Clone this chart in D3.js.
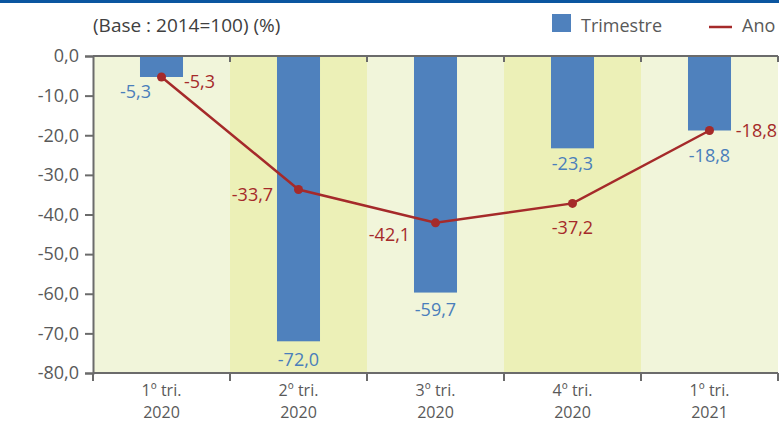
<!DOCTYPE html>
<html>
<head>
<meta charset="utf-8">
<script src="https://cdn.jsdelivr.net/npm/d3@7"></script>
<style>
  html, body { margin: 0; padding: 0; background: #fff; }
  svg { display: block; font-family: "Open Sans", sans-serif; }
</style>
</head>
<body>
<svg id="chart" width="779" height="423"></svg>
<script>
// Quarterly index change, base 2014 = 100
const quarters = ["1º tri.", "2º tri.", "3º tri.", "4º tri.", "1º tri."];
const years = ["2020", "2020", "2020", "2020", "2021"];
const categories = quarters.map((q, i) => q + " " + years[i]);
const trimestre = [-5.3, -72.0, -59.7, -23.3, -18.8];
const ano = [-5.3, -33.7, -42.1, -37.2, -18.8];
const yTicks = [0, -10, -20, -30, -40, -50, -60, -70, -80];

// label nudges (px) so the value labels don't collide with the line markers
const barLabelOffset = [[-26, 15], [0, 18], [0, 17], [0, 15], [0, 25]];
const lineLabelOffset = [[38, 5], [-46, 5], [-46, 12], [0, 24], [47, 0]];

const svg = d3.select("#chart");
const W = 779;
const plot = { left: 93, right: 778, top: 56, bottom: 373 };
const grey = "#6b6b6b";

const fmt = v => d3.format(".1f")(v).replace("−", "-").replace(".", ",");

const x = d3.scaleBand().domain(categories).range([plot.left, plot.right]);
const xBar = d3.scaleBand().domain(categories).range([plot.left, plot.right])
  .paddingInner(0.686).paddingOuter(0.343);
const y = d3.scaleLinear().domain([-80, 0]).range([plot.bottom, plot.top]);

// header band
svg.append("rect").attr("x", 0).attr("y", 0).attr("width", W).attr("height", 3).attr("fill", "#0b56a0");

// alternating background bands
svg.append("g").selectAll("rect").data(categories).join("rect")
  .attr("x", d => x(d)).attr("y", plot.top)
  .attr("width", x.bandwidth()).attr("height", plot.bottom - plot.top)
  .attr("fill", (d, i) => i % 2 ? "#ecf0b7" : "#f1f5da");

// bars
svg.append("g").selectAll("rect").data(trimestre).join("rect")
  .attr("x", (d, i) => xBar(categories[i]))
  .attr("y", y(0))
  .attr("width", xBar.bandwidth())
  .attr("height", d => y(d) - y(0))
  .attr("fill", "#4f81bd");

// y axis
const yAxis = d3.axisLeft(y).tickValues(yTicks).tickFormat(fmt).tickSize(8).tickPadding(6);
const gy = svg.append("g").attr("transform", `translate(${plot.left},0)`).call(yAxis);
gy.select(".domain").attr("stroke", grey).attr("stroke-width", 2);
gy.selectAll(".tick line").attr("stroke", grey).attr("stroke-width", 2);
gy.selectAll(".tick text").attr("fill", "#595959").attr("font-size", 18)
  .attr("font-family", "'Open Sans', sans-serif");

// category boundaries
const bounds = categories.map(c => x(c)).concat([plot.right]);

// zero line with small ticks
svg.append("line").attr("x1", plot.left).attr("x2", plot.right)
  .attr("y1", y(0)).attr("y2", y(0)).attr("stroke", grey).attr("stroke-width", 2);
svg.append("g").selectAll("line").data(bounds.slice(1)).join("line")
  .attr("x1", d => d).attr("x2", d => d).attr("y1", y(0)).attr("y2", y(0) + 6)
  .attr("stroke", grey).attr("stroke-width", 2);

// bottom category axis
svg.append("line").attr("x1", plot.left).attr("x2", plot.right)
  .attr("y1", plot.bottom).attr("y2", plot.bottom).attr("stroke", grey).attr("stroke-width", 2);
svg.append("g").selectAll("line").data(bounds).join("line")
  .attr("x1", d => d).attr("x2", d => d).attr("y1", plot.bottom).attr("y2", plot.bottom + 8)
  .attr("stroke", grey).attr("stroke-width", 2);
const cat = svg.append("g").attr("fill", "#595959").attr("font-size", 16).attr("text-anchor", "middle");
cat.selectAll("text.q").data(categories).join("text").attr("class", "q")
  .attr("x", d => x(d) + x.bandwidth() / 2).attr("y", 396)
  .text((d, i) => quarters[i]);
cat.selectAll("text.yr").data(categories).join("text").attr("class", "yr")
  .attr("x", d => x(d) + x.bandwidth() / 2).attr("y", 418)
  .text((d, i) => years[i]);

// line series
const cx = i => x(categories[i]) + x.bandwidth() / 2;
const line = d3.line().x((d, i) => cx(i)).y(d => y(d));
svg.append("path").datum(ano).attr("d", line)
  .attr("fill", "none").attr("stroke", "#a52a2a").attr("stroke-width", 2.5);
svg.append("g").selectAll("circle").data(ano).join("circle")
  .attr("cx", (d, i) => cx(i)).attr("cy", d => y(d)).attr("r", 4.5).attr("fill", "#a52a2a");

// value labels
svg.append("g").selectAll("text").data(trimestre).join("text")
  .attr("x", (d, i) => cx(i) + barLabelOffset[i][0])
  .attr("y", (d, i) => y(d) + barLabelOffset[i][1])
  .attr("dy", "0.36em").attr("text-anchor", "middle")
  .attr("fill", "#4a7ebb").attr("font-size", 18).text(fmt);
svg.append("g").selectAll("text").data(ano).join("text")
  .attr("x", (d, i) => cx(i) + lineLabelOffset[i][0])
  .attr("y", (d, i) => y(d) + lineLabelOffset[i][1])
  .attr("dy", "0.36em").attr("text-anchor", "middle")
  .attr("fill", "#a52a2a").attr("font-size", 18).text(fmt);

// subtitle
svg.append("text").attr("x", 93).attr("y", 32).attr("fill", "#404040")
  .attr("font-size", 19).text("(Base : 2014=100) (%)");

// legend
const lg = svg.append("g");
lg.append("rect").attr("x", 552).attr("y", 14).attr("width", 19).attr("height", 18).attr("fill", "#4f81bd");
lg.append("text").attr("x", 581).attr("y", 32).attr("fill", "#595959").attr("font-size", 18).text("Trimestre");
lg.append("line").attr("x1", 709).attr("x2", 732).attr("y1", 27).attr("y2", 27)
  .attr("stroke", "#a52a2a").attr("stroke-width", 2.5);
lg.append("text").attr("x", 742).attr("y", 32).attr("fill", "#595959").attr("font-size", 18).text("Ano");
</script>
</body>
</html>
